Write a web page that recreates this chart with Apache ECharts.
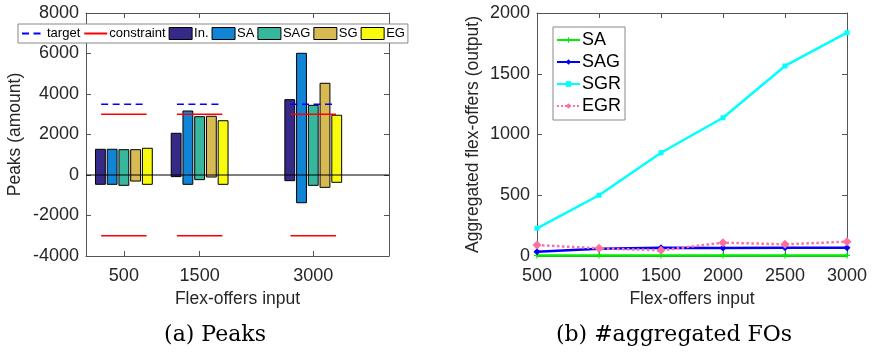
<!DOCTYPE html>
<html>
<head>
<meta charset="utf-8">
<script src="https://cdn.jsdelivr.net/npm/echarts@6/dist/echarts.min.js"></script>
<style>
  html, body { margin: 0; padding: 0; background: #fff; }
  #chart { width: 873px; height: 353px; }
</style>
</head>
<body>
<div id="chart"></div>
<script>
// (a) Peaks: floating bars, min..max per method and input size
const groups = [500, 1500, 3000];
const barNames = ['In.', 'SA', 'SAG', 'SG', 'EG'];
const inTop = [1270, 2060, 3720];
const inBottom = [-460, -80, -280];
const saTop = [1270, 3160, 6010];
const saBottom = [-460, -460, -1370];
const sagTop = [1250, 2880, 3440];
const sagBottom = [-510, -230, -510];
const sgTop = [1250, 2900, 4530];
const sgBottom = [-300, -100, -610];
const egTop = [1320, 2680, 2950];
const egBottom = [-460, -460, -360];
const targetValues = [3500, 3500, 3500];
const constraintValues = [3000, 3000, 3000];

// (b) #aggregated FOs
const inputSizes = [500, 1000, 1500, 2000, 2500, 3000];
const saCount = [5, 5, 5, 5, 5, 5];
const sagCount = [35, 60, 68, 65, 68, 68];
const sgrCount = [228, 500, 850, 1138, 1564, 1838];
const egrCount = [90, 63, 47, 110, 96, 118];

const barColors = ['#352a87', '#1184d6', '#37b89d', '#d8ba55', '#f9fb0e'];
const barTops = [inTop, saTop, sagTop, sgTop, egTop];
const barBottoms = [inBottom, saBottom, sagBottom, sgBottom, egBottom];

const BAR_STEP = 155;
const BAR_W = 130;
const HALF_SPAN = 300;
const BAR_PREFIX = 'bar:';
const FONT = "'Liberation Sans', Arial, sans-serif";
const AXIS_COLOR = '#555';
const TEXT_COLOR = '#262626';

const chart = echarts.init(document.getElementById('chart'));

function barRenderer(idx) {
  return function (params, api) {
    const x = api.value(0) + (idx - 2) * BAR_STEP;
    const p0 = api.coord([x - BAR_W / 2, api.value(2)]);
    const p1 = api.coord([x + BAR_W / 2, api.value(1)]);
    return {
      type: 'rect',
      shape: { x: p0[0], y: p0[1], width: p1[0] - p0[0], height: p1[1] - p0[1] },
      style: api.style()
    };
  };
}

const series = [];

barNames.forEach((name, i) => {
  series.push({
    name: BAR_PREFIX + name,
    type: 'custom',
    xAxisIndex: 0,
    yAxisIndex: 0,
    renderItem: barRenderer(i),
    encode: { x: 0, y: [1, 2] },
    itemStyle: { color: barColors[i], borderColor: '#000', borderWidth: 1 },
    data: groups.map((g, k) => [g, barBottoms[i][k], barTops[i][k]]),
    z: 2
  });
});

// zero line
series.push({
  type: 'line',
  xAxisIndex: 0,
  yAxisIndex: 0,
  data: [[0, 0], [4000, 0]],
  symbol: 'none',
  silent: true,
  lineStyle: { color: '#000', width: 1 },
  z: 4
});

groups.forEach((g, k) => {
  series.push({
    name: 'target',
    type: 'line',
    xAxisIndex: 0,
    yAxisIndex: 0,
    symbol: 'none',
    data: [[g - HALF_SPAN, targetValues[k]], [g + HALF_SPAN, targetValues[k]]],
    lineStyle: { color: '#0000ff', width: 1.5, type: [7, 4.5] },
    itemStyle: { color: '#0000ff' },
    z: 5
  });
  series.push({
    name: 'constraint',
    type: 'line',
    xAxisIndex: 0,
    yAxisIndex: 0,
    symbol: 'none',
    data: [[g - HALF_SPAN, constraintValues[k]], [g + HALF_SPAN, constraintValues[k]]],
    lineStyle: { color: '#ff0000', width: 1.5 },
    itemStyle: { color: '#ff0000' },
    z: 5
  });
  series.push({
    name: 'constraint',
    type: 'line',
    xAxisIndex: 0,
    yAxisIndex: 0,
    symbol: 'none',
    data: [[g - HALF_SPAN, -constraintValues[k]], [g + HALF_SPAN, -constraintValues[k]]],
    lineStyle: { color: '#ff0000', width: 1.5 },
    itemStyle: { color: '#ff0000' },
    z: 5
  });
});

const lineDefs = [
  { name: 'SA', data: saCount, color: '#00ee00', symbol: 'path://M4,0h2v4h4v2h-4v4h-2v-4h-4v-2h4z', size: 6, type: 'solid' },
  { name: 'SAG', data: sagCount, color: '#0000ff', symbol: 'diamond', size: 7, type: 'solid' },
  { name: 'SGR', data: sgrCount, color: '#00ffff', symbol: 'rect', size: 5, type: 'solid' },
  { name: 'EGR', data: egrCount, color: '#ff6f9f', symbol: 'diamond', size: 9, type: 'dotted' }
];

lineDefs.forEach(d => {
  series.push({
    name: d.name,
    type: 'line',
    xAxisIndex: 2,
    yAxisIndex: 2,
    data: inputSizes.map((x, i) => [x, d.data[i]]),
    symbol: d.symbol,
    symbolSize: d.size,
    showSymbol: true,
    lineStyle: { color: d.color, width: 2.5, type: d.type },
    itemStyle: { color: d.color },
    z: d.name === 'SGR' ? 3 : 4
  });
});

const plain = v => String(v);

function boxAxis(extra) {
  return Object.assign({
    type: 'value',
    axisLine: { show: true, onZero: false, lineStyle: { color: AXIS_COLOR, width: 1 } },
    axisTick: { show: true, inside: true, length: 5, lineStyle: { color: AXIS_COLOR } },
    splitLine: { show: false },
    axisLabel: { color: TEXT_COLOR, fontSize: 18, fontFamily: FONT, margin: 7, formatter: plain },
    nameTextStyle: { color: TEXT_COLOR, fontSize: 17.5, fontFamily: FONT }
  }, extra);
}

const option = {
  animation: false,
  backgroundColor: '#fff',
  grid: [
    { left: 86, top: 13, width: 303, height: 243 },
    { left: 537, top: 13, width: 310, height: 243 }
  ],
  xAxis: [
    boxAxis({
      gridIndex: 0, position: 'bottom', min: 0, max: 4000,
      axisTick: { show: true, inside: true, length: 5, customValues: groups, lineStyle: { color: AXIS_COLOR } },
      axisLabel: { color: TEXT_COLOR, fontSize: 18, fontFamily: FONT, margin: 11, customValues: groups, formatter: plain },
      name: 'Flex-offers input', nameLocation: 'middle', nameGap: 34
    }),
    boxAxis({
      gridIndex: 0, position: 'top', min: 0, max: 4000,
      axisTick: { show: true, inside: true, length: 5, customValues: groups, lineStyle: { color: AXIS_COLOR } },
      axisLabel: { show: false }
    }),
    boxAxis({
      gridIndex: 1, position: 'bottom', min: 500, max: 3000, interval: 500,
      axisLabel: { color: TEXT_COLOR, fontSize: 18, fontFamily: FONT, margin: 11, formatter: plain },
      name: 'Flex-offers input', nameLocation: 'middle', nameGap: 34
    }),
    boxAxis({
      gridIndex: 1, position: 'top', min: 500, max: 3000, interval: 500,
      axisLabel: { show: false }
    })
  ],
  yAxis: [
    boxAxis({
      gridIndex: 0, position: 'left', min: -4000, max: 8000, interval: 2000,
      name: 'Peaks (amount)', nameLocation: 'middle', nameGap: 62
    }),
    boxAxis({
      gridIndex: 0, position: 'right', min: -4000, max: 8000, interval: 2000,
      axisLabel: { show: false }
    }),
    boxAxis({
      gridIndex: 1, position: 'left', min: 0, max: 2000, interval: 500,
      name: 'Aggregated flex-offers (output)', nameLocation: 'middle', nameGap: 55
    }),
    boxAxis({
      gridIndex: 1, position: 'right', min: 0, max: 2000, interval: 500,
      axisLabel: { show: false }
    })
  ],
  legend: [
    {
      left: 18, top: 24,
      orient: 'horizontal',
      itemWidth: 23, itemHeight: 12, itemGap: 3,
      padding: [3, 3],
      backgroundColor: '#fff',
      borderColor: '#888', borderWidth: 1, borderRadius: 0,
      textStyle: { color: '#000', fontSize: 13, fontFamily: FONT, padding: [0, 0, 0, -3] },
      formatter: name => name.replace(BAR_PREFIX, ''),
      data: [
        { name: 'target', itemStyle: { opacity: 0 } },
        { name: 'constraint', itemStyle: { opacity: 0 } }
      ].concat(barNames.map(n => ({ name: BAR_PREFIX + n, icon: 'rect', itemStyle: { borderColor: '#000', borderWidth: 1 } })))
    },
    {
      left: 553, top: 27,
      orient: 'vertical',
      itemWidth: 23, itemHeight: 7, itemGap: 4,
      padding: [4, 4, 5, 3],
      backgroundColor: '#fff',
      borderColor: '#888', borderWidth: 1, borderRadius: 0,
      textStyle: { color: '#000', fontSize: 18, fontFamily: FONT, padding: [0, 0, 0, -3] },
      data: lineDefs.map(d => d.name)
    }
  ],
  graphic: [
    {
      type: 'text', x: 215, y: 335,
      style: { text: '(a) Peaks', font: "22px 'DejaVu Serif', serif", fill: '#000', textAlign: 'center', textVerticalAlign: 'middle' }
    },
    {
      type: 'text', x: 674, y: 335,
      style: { text: '(b) #aggregated FOs', font: "22px 'DejaVu Serif', serif", fill: '#000', textAlign: 'center', textVerticalAlign: 'middle' }
    }
  ],
  series: series
};

chart.setOption(option);
</script>
</body>
</html>
